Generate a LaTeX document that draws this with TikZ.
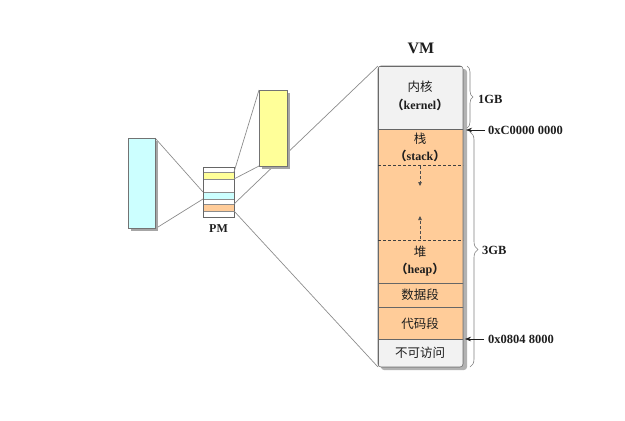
\documentclass[tikz,border=0pt]{standalone}
\usepackage{fontspec}
\setmainfont{Liberation Serif}
\newfontfamily\cjk{Noto Sans CJK SC}
\usetikzlibrary{shadows,decorations.pathreplacing,arrows.meta}
\definecolor{peach}{HTML}{FFCC99}
\definecolor{kgray}{HTML}{F2F2F2}
\definecolor{lcyan}{HTML}{CCFFFF}
\definecolor{lyellow}{HTML}{FFFF99}
\definecolor{edge}{HTML}{8C8C8C}
\definecolor{ink}{HTML}{1E1E1E}
\begin{document}
\begin{tikzpicture}[x=1pt,y=-1pt,
  conn/.style={draw=edge, line width=0.7pt},
  shbox/.style={draw=black!55, line width=0.6pt, inner sep=0pt, outer sep=0pt, anchor=north west,
     drop shadow={shadow xshift=3pt, shadow yshift=-3pt, fill=black!35, opacity=1}},
  seg/.style={draw=black!60, line width=0.5pt, inner sep=0pt, outer sep=0pt, anchor=north west},
  stripe/.style={draw=black!45, line width=0.5pt, inner sep=0pt, outer sep=0pt, anchor=north west, minimum width=31pt, minimum height=7pt},
  cjklbl/.style={text=ink, font=\cjk\fontsize{12.5}{14}\selectfont, inner sep=0pt},
  enlbl/.style={text=ink, font=\bfseries\fontsize{12}{14}\selectfont, inner sep=0pt},
  sidelbl/.style={text=ink, font=\bfseries\fontsize{12.5}{14}\selectfont, inner sep=0pt, anchor=west},
  bracestyle/.style={draw=black!50, line width=0.6pt, decorate, decoration={brace, amplitude=6pt}},
  ptr/.style={draw=ink, line width=0.6pt, -{Stealth[length=6pt,width=4.5pt]}},
  growarrow/.style={draw=black!70, line width=0.6pt, dashed, dash pattern=on 3pt off 2pt, -{Triangle[length=4pt,width=3.5pt]}}
]
\useasboundingbox (0,0) rectangle (625,421);

% coordinates of the VM frame corners
\coordinate (vmtl) at (378,66);
\coordinate (vmbl) at (378,367);

% PM stack
\node[seg, draw=none, minimum width=31pt, minimum height=50pt] (pm) at (203,167) {};
\node[stripe, fill=lyellow] (ys) at (203,172) {};
\node[stripe, fill=lcyan] (cs) at (203,192) {};
\node[stripe, fill=peach] (os) at (203,204) {};
\draw[draw=black!60, line width=0.6pt] (pm.north west) rectangle (pm.south east);
\node[text=ink, font=\bfseries\fontsize{12}{14}\selectfont, inner sep=0pt] (pmlbl) at (218.5,229) {PM};

% connectors (behind boxes)
\coordinate (cyanne) at (155,138);
\coordinate (cyanse) at (158,227);
\draw[conn] (cyanne) -- (cs.north west);
\draw[conn] (cyanse) -- (cs.south west);
\draw[conn] (ys.north east) -- (259,90);
\draw[conn] (ys.south east) -- (259,166);
\draw[conn] (os.north east) -- (vmtl);
\draw[conn] (os.south east) -- (vmbl);

% cyan and yellow boxes
\node[shbox, fill=lcyan, minimum width=27pt, minimum height=90pt] (cyanbox) at (128,138) {};
\node[shbox, fill=lyellow, minimum width=28pt, minimum height=76pt] (yellowbox) at (259,90) {};

% VM shadow
\fill[black!30, rounded corners=3pt] (381,69) rectangle (467,370);
\begin{scope}
\clip[rounded corners=3pt] (378,66) rectangle (463,367);
\node[seg, fill=kgray, minimum width=85pt, minimum height=63pt] (kern) at (378,66) {};
\node[seg, fill=peach, minimum width=85pt, minimum height=154pt] (freearea) at (378,129) {};
\node[seg, fill=peach, minimum width=85pt, minimum height=24pt] (data) at (378,283) {};
\node[seg, fill=peach, minimum width=85pt, minimum height=32pt] (code) at (378,307) {};
\node[seg, fill=kgray, minimum width=85pt, minimum height=28pt] (noacc) at (378,339) {};
\end{scope}
\draw[draw=black!55, line width=0.6pt, rounded corners=3pt] (378,66) rectangle (463,367);
\draw[draw=black!75, line width=0.6pt, dashed, dash pattern=on 3pt off 2pt] (378,165) -- (463,165);
\draw[draw=black!75, line width=0.6pt, dashed, dash pattern=on 3pt off 2pt] (378,240) -- (463,240);

% grow arrows
\coordinate (dn1) at (420,166);
\coordinate (dn2) at (420,186);
\coordinate (up1) at (420,239);
\coordinate (up2) at (420,216);
\draw[growarrow] (dn1) -- (dn2);
\draw[growarrow] (up1) -- (up2);

% VM texts
\node[text=ink, font=\bfseries\fontsize{16}{18}\selectfont, inner sep=0pt] (vmlbl) at (421,48) {VM};
\node[cjklbl] (t1) at (420,87) {内核};
\node[enlbl] (t2) at (420,104.5) {{\cjk （}kernel{\cjk ）}};
\node[cjklbl] (t3) at (420,139) {栈};
\node[enlbl] (t4) at (420,156) {{\cjk （}stack{\cjk ）}};
\node[cjklbl] (t5) at (420,252) {堆};
\node[enlbl] (t6) at (420,269.5) {{\cjk （}heap{\cjk ）}};
\node[cjklbl] (t7) at (420,295) {数据段};
\node[cjklbl] (t8) at (420,324) {代码段};
\node[cjklbl] (t9) at (420,353) {不可访问};

% braces
\coordinate (b1a) at (467,66);
\coordinate (b1b) at (467,128);
\coordinate (b2a) at (470,132);
\coordinate (b2b) at (470,367);
\draw[bracestyle] (b1a) -- (b1b);
\draw[bracestyle, decoration={brace, amplitude=8pt}] (b2a) -- (b2b);
\node[sidelbl] (gb1) at (478,99) {1GB};
\node[sidelbl] (gb3) at (482,250.5) {3GB};

% address pointers
\coordinate (p1s) at (485,130);
\coordinate (p1e) at (466,130);
\coordinate (p2s) at (484,339);
\coordinate (p2e) at (465,339);
\draw[ptr] (p1s) -- (p1e);
\draw[ptr] (p2s) -- (p2e);
\node[sidelbl] (ad1) at (488,130.5) {0xC0000 0000};
\node[sidelbl] (ad2) at (488,339.5) {0x0804 8000};
\end{tikzpicture}
\end{document}
